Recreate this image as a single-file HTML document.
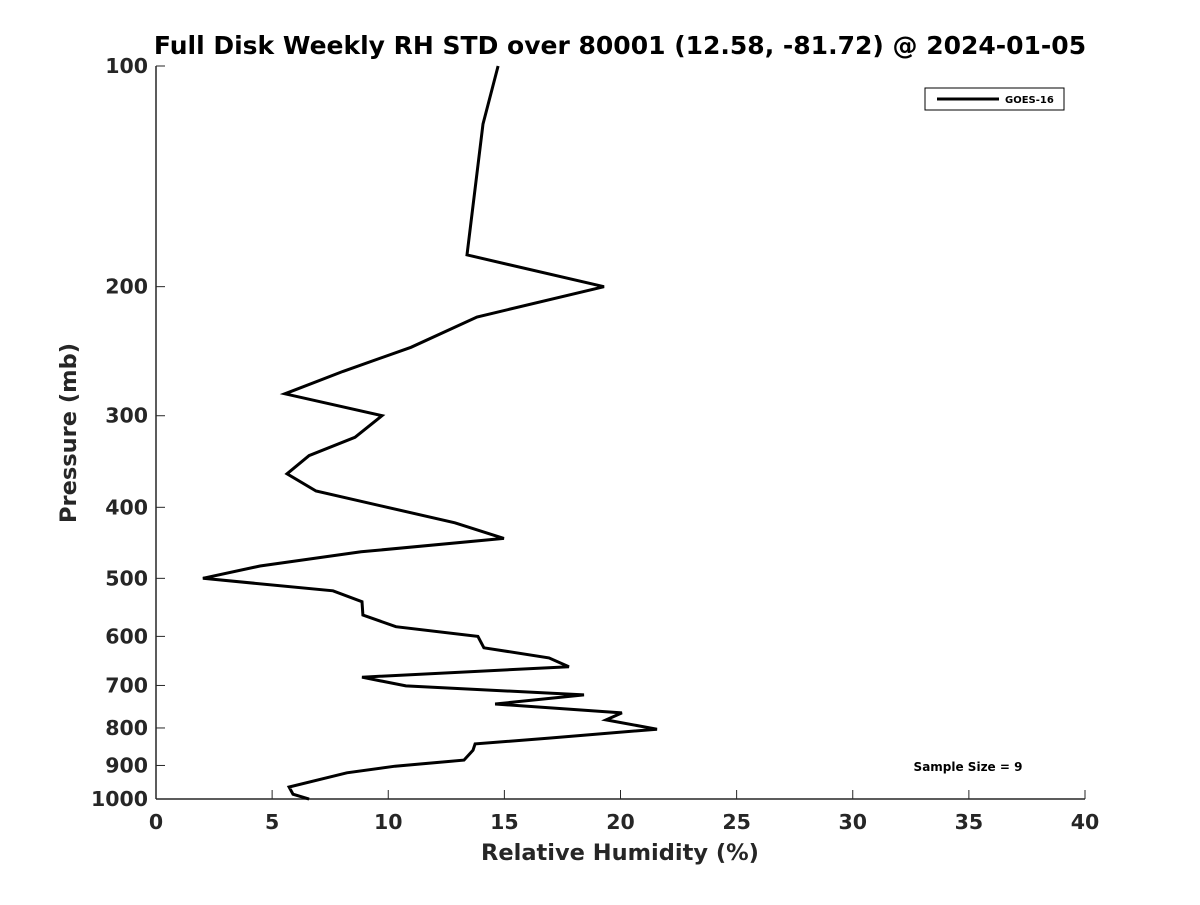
<!DOCTYPE html>
<html><head><meta charset="utf-8"><style>
body{margin:0;background:#fff;font-family:"Liberation Sans","DejaVu Sans",sans-serif}
svg text{font-family:"DejaVu Sans","Liberation Sans",sans-serif}
</style></head><body>
<svg id="chart" width="1200" height="900">
<rect width="1200" height="900" fill="#fff"/>
<text x="620" y="54" text-anchor="middle" font-size="25" font-weight="bold" fill="#000">Full Disk Weekly RH STD over 80001 (12.58, -81.72) @ 2024-01-05</text>
<text transform="translate(76,433) rotate(-90)" text-anchor="middle" font-size="22.5" font-weight="bold" fill="#262626">Pressure (mb)</text>
<text x="620" y="860" text-anchor="middle" font-size="22.5" font-weight="bold" fill="#262626">Relative Humidity (%)</text>
<g id="axes"></g>
<polyline id="series" fill="none" stroke="#000" stroke-width="3" stroke-linejoin="miter"/>
<g>
<rect x="925" y="88" width="139" height="22" fill="#fff" stroke="#000" stroke-width="1"/>
<line x1="937" y1="99" x2="999" y2="99" stroke="#000" stroke-width="3"/>
<text x="1005" y="103" font-size="10" font-weight="bold">GOES-16</text>
</g>
<text x="968" y="771" text-anchor="middle" font-size="12" font-weight="bold">Sample Size = 9</text>
</svg>
<script>
const xTicks = [0,5,10,15,20,25,30,35,40];
const yTicks = [100,200,300,400,500,600,700,800,900,1000];
const pressure = [100,120,181,200,220,242,261,280,300,321,340,360,380,420,441,460,481,500,520,538,561,582,600,622,642,660,682,701,721,742,763,780,803,826,841,858,885,902,921,963,985,1000];
const rhStd = [14.73,14.08,13.39,19.29,13.82,10.98,8.05,5.55,9.73,8.57,6.59,5.64,6.89,12.87,14.98,8.83,4.48,2.02,7.62,8.87,8.91,10.33,13.86,14.12,16.92,17.78,8.87,10.76,18.43,14.6,20.06,19.38,21.57,16.92,13.74,13.65,13.26,10.29,8.22,5.73,5.9,6.59];
const X0=156,X1=1085,Y0=66,Y1=799;
const sx=v=>X0+(v-0)/(40-0)*(X1-X0);
const sy=p=>Y0+(Math.log10(p)-2)/(3-2)*(Y1-Y0);
const NS="http://www.w3.org/2000/svg";
const g=document.getElementById('axes');
function mk(tag,attrs,txt){const e=document.createElementNS(NS,tag);for(const k in attrs)e.setAttribute(k,attrs[k]);if(txt!==undefined)e.textContent=txt;g.appendChild(e);return e;}
const ax=mk('line',{x1:X0,y1:Y1,x2:X1,y2:Y1,stroke:'#262626','stroke-width':1.5});


const ay=mk('line',{x1:X0,y1:Y0,x2:X0,y2:Y1,stroke:'#262626','stroke-width':1.5});


xTicks.forEach(v=>{
  mk('line',{x1:sx(v),y1:Y1,x2:sx(v),y2:Y1-9,stroke:'#262626','stroke-width':1});
  const t=mk('text',{x:sx(v),y:Y1+30,'text-anchor':'middle','font-size':20.5,'font-weight':'bold',fill:'#262626'},String(v));
  
  
});
yTicks.forEach(p=>{
  mk('line',{x1:X0,y1:sy(p),x2:X0+9,y2:sy(p),stroke:'#262626','stroke-width':1});
  const t=mk('text',{x:X0-8,y:sy(p)+7,'text-anchor':'end','font-size':20.5,'font-weight':'bold',fill:'#262626'},String(p));
  
  
});
document.getElementById('series').setAttribute('points',pressure.map((p,i)=>sx(rhStd[i]).toFixed(1)+','+sy(p).toFixed(1)).join(' '));
</script>
</body></html>
